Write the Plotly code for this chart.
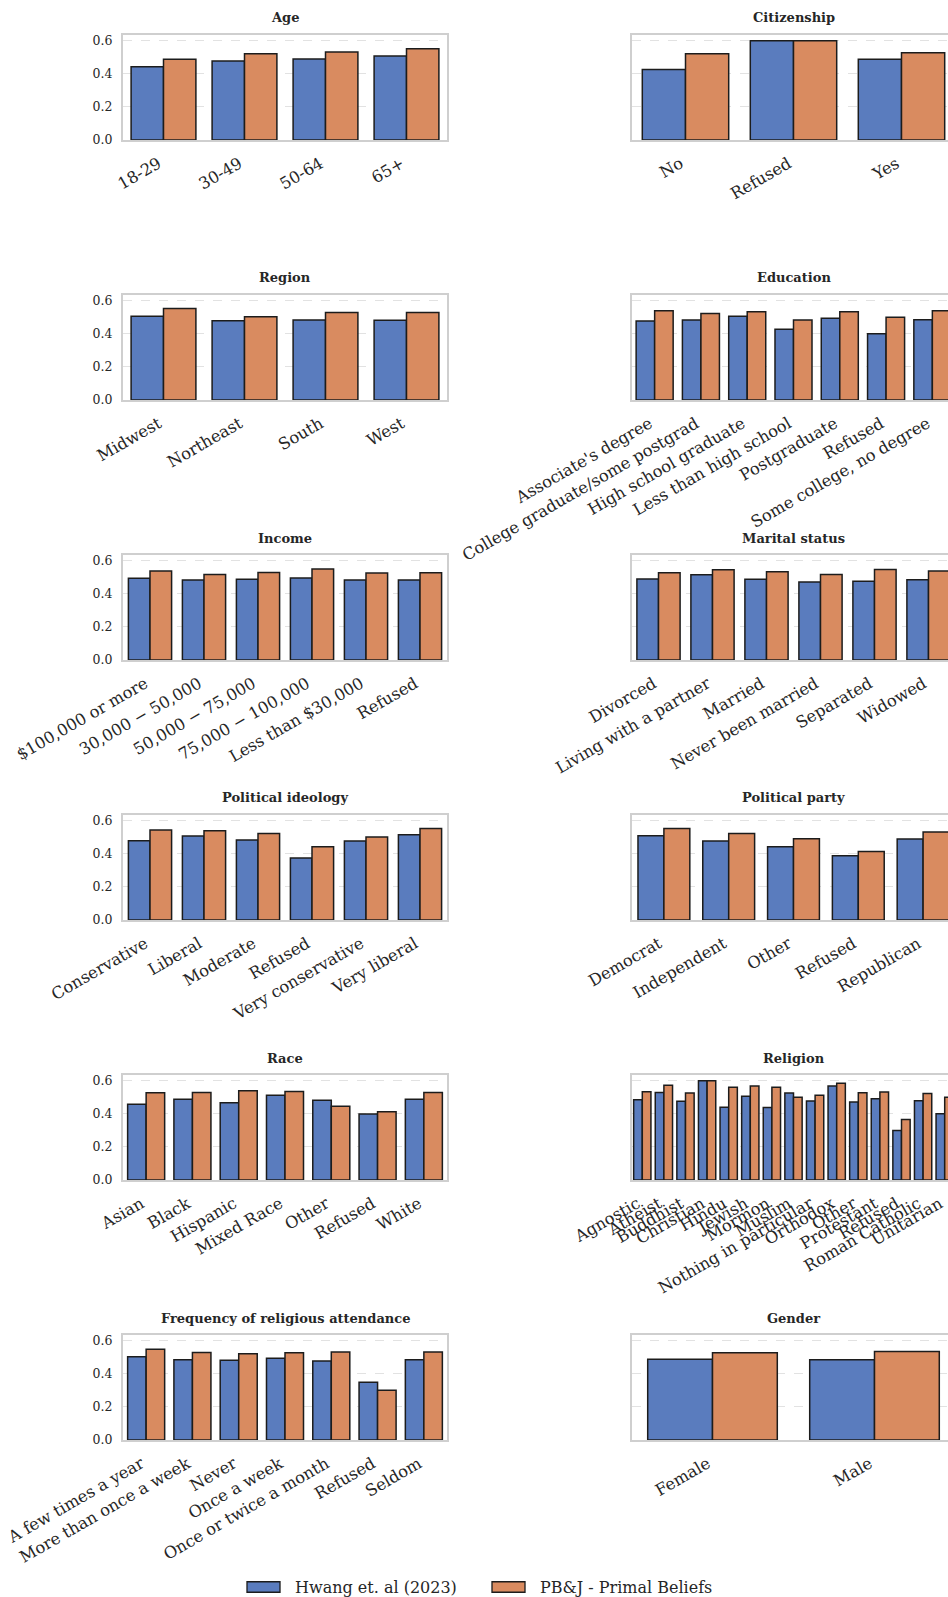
import plotly.graph_objects as go

W, H = 948, 1597

SERIES_A = "Hwang et. al (2023)"
SERIES_B = "PB&J - Primal Beliefs"

age_cats = ["18-29", "30-49", "50-64", "65+"]
age_hwang = [0.443, 0.477, 0.489, 0.507]
age_pbj = [0.487, 0.521, 0.531, 0.551]

citizenship_cats = ["No", "Refused", "Yes"]
citizenship_hwang = [0.425, 0.600, 0.487]
citizenship_pbj = [0.521, 0.600, 0.527]

region_cats = ["Midwest", "Northeast", "South", "West"]
region_hwang = [0.505, 0.479, 0.483, 0.481]
region_pbj = [0.553, 0.503, 0.529, 0.529]

education_cats = ["Associate's degree", "College graduate/some postgrad",
                  "High school graduate", "Less than high school",
                  "Postgraduate", "Refused", "Some college, no degree"]
education_hwang = [0.477, 0.483, 0.505, 0.427, 0.493, 0.400, 0.485]
education_pbj = [0.539, 0.523, 0.533, 0.483, 0.533, 0.499, 0.539]

income_cats = ["$100,000 or more", "30,000 \u2212 50,000", "50,000 \u2212 75,000",
               "75,000 \u2212 100,000", "Less than $30,000", "Refused"]
income_hwang = [0.493, 0.483, 0.487, 0.495, 0.483, 0.483]
income_pbj = [0.537, 0.517, 0.529, 0.549, 0.525, 0.527]

marital_cats = ["Divorced", "Living with a partner", "Married",
                "Never been married", "Separated", "Widowed"]
marital_hwang = [0.489, 0.515, 0.487, 0.471, 0.475, 0.485]
marital_pbj = [0.527, 0.545, 0.533, 0.517, 0.547, 0.537]

ideology_cats = ["Conservative", "Liberal", "Moderate", "Refused",
                 "Very conservative", "Very liberal"]
ideology_hwang = [0.479, 0.507, 0.483, 0.374, 0.477, 0.515]
ideology_pbj = [0.543, 0.539, 0.523, 0.443, 0.501, 0.553]

party_cats = ["Democrat", "Independent", "Other", "Refused", "Republican"]
party_hwang = [0.509, 0.477, 0.443, 0.388, 0.489]
party_pbj = [0.553, 0.523, 0.491, 0.414, 0.531]

race_cats = ["Asian", "Black", "Hispanic", "Mixed Race", "Other", "Refused", "White"]
race_hwang = [0.457, 0.487, 0.467, 0.511, 0.481, 0.398, 0.487]
race_pbj = [0.527, 0.529, 0.539, 0.535, 0.446, 0.412, 0.529]

religion_cats = ["Agnostic", "Atheist", "Buddhist", "Christian", "Hindu", "Jewish",
                 "Mormon", "Muslim", "Nothing in particular", "Orthodox", "Other",
                 "Protestant", "Refused", "Roman Catholic", "Unitarian"]
religion_hwang = [0.485, 0.529, 0.475, 0.600, 0.440, 0.505, 0.438, 0.525,
                  0.477, 0.568, 0.471, 0.491, 0.299, 0.479, 0.400]
religion_pbj = [0.533, 0.572, 0.525, 0.600, 0.560, 0.568, 0.560, 0.499,
                0.511, 0.584, 0.527, 0.531, 0.366, 0.523, 0.499]

attendance_cats = ["A few times a year", "More than once a week", "Never",
                   "Once a week", "Once or twice a month", "Refused", "Seldom"]
attendance_hwang = [0.503, 0.485, 0.481, 0.493, 0.477, 0.349, 0.485]
attendance_pbj = [0.548, 0.529, 0.521, 0.527, 0.531, 0.300, 0.531]

gender_cats = ["Female", "Male"]
gender_hwang = [0.487, 0.485]
gender_pbj = [0.527, 0.535]

panels = [
    ("Age", age_cats, age_hwang, age_pbj),
    ("Citizenship", citizenship_cats, citizenship_hwang, citizenship_pbj),
    ("Region", region_cats, region_hwang, region_pbj),
    ("Education", education_cats, education_hwang, education_pbj),
    ("Income", income_cats, income_hwang, income_pbj),
    ("Marital status", marital_cats, marital_hwang, marital_pbj),
    ("Political ideology", ideology_cats, ideology_hwang, ideology_pbj),
    ("Political party", party_cats, party_hwang, party_pbj),
    ("Race", race_cats, race_hwang, race_pbj),
    ("Religion", religion_cats, religion_hwang, religion_pbj),
    ("Frequency of religious attendance", attendance_cats, attendance_hwang, attendance_pbj),
    ("Gender", gender_cats, gender_hwang, gender_pbj),
]

BLUE = "#5a7cbe"
ORANGE = "#d98b60"
EDGE = "#1c1c1c"
FRAME = "#cfcfcf"
GRID = "#e2e2e2"
TEXT = "#262626"
FONT = "DejaVu Serif"

# pixel geometry of the panel grid
LEFT_X = (123.0, 447.0)
RIGHT_X = (631.5, 955.5)   # right column runs past the page edge and is cut off
ROW_TOP0, ROW_STEP, AX_H = 35.0, 260.0, 105.0
Y_MAX = 0.634

fig = go.Figure()
layout = {}
annotations = []
shapes = []

for i, (title, cats, hw, pb) in enumerate(panels):
    row, col = divmod(i, 2)
    k = i + 1
    xa = "x" if k == 1 else f"x{k}"
    ya = "y" if k == 1 else f"y{k}"
    n = len(cats)

    x0, x1 = LEFT_X if col == 0 else RIGHT_X
    full_w = x1 - x0
    vis_x1 = min(x1, W)
    xr_hi = -0.5 + n * (vis_x1 - x0) / full_w
    top = ROW_TOP0 + ROW_STEP * row
    bot = top + AX_H

    fig.add_trace(go.Bar(
        x=cats, y=hw, xaxis=xa, yaxis=ya, name=SERIES_A,
        showlegend=False, offsetgroup="a",
        marker=dict(color=BLUE, line=dict(color=EDGE, width=1.5)),
    ))
    fig.add_trace(go.Bar(
        x=cats, y=pb, xaxis=xa, yaxis=ya, name=SERIES_B,
        showlegend=False, offsetgroup="b",
        marker=dict(color=ORANGE, line=dict(color=EDGE, width=1.5)),
    ))

    xkey = "xaxis" if k == 1 else f"xaxis{k}"
    ykey = "yaxis" if k == 1 else f"yaxis{k}"
    layout[xkey] = dict(
        domain=[x0 / W, vis_x1 / W], anchor=ya, type="category",
        categoryorder="array", categoryarray=cats,
        tickmode="array", tickvals=cats, ticktext=cats,
        range=[-0.5, xr_hi], tickangle=-30, automargin=False,
        ticklabelstandoff=6, ticklabelshift=-5,
        tickfont=dict(family=FONT, size=16.3, color=TEXT),
        showline=True, linecolor=FRAME, linewidth=2, mirror=True,
        showgrid=False, ticks="", fixedrange=True,
    )
    layout[ykey] = dict(
        domain=[1 - bot / H, 1 - top / H], anchor=xa, automargin=False,
        range=[0, Y_MAX], tickvals=[0, 0.2, 0.4, 0.6],
        ticktext=["0.0", "0.2", "0.4", "0.6"],
        showticklabels=(col == 0), ticklabelstandoff=6,
        tickfont=dict(family=FONT, size=12.5, color=TEXT),
        showline=True, linecolor=FRAME, linewidth=2,
        mirror=(col == 0),
        showgrid=True, gridcolor=GRID, gridwidth=1, griddash="dash",
        zeroline=False, ticks="", fixedrange=True,
    )
    annotations.append(dict(
        text=f"<b>{title}</b>", xref="paper", yref="paper",
        x=((x0 + x1) / 2) / W, y=1 - (top - 17) / H,
        xanchor="center", yanchor="middle", showarrow=False,
        font=dict(family=FONT, size=13, color=TEXT),
    ))

# figure legend at the bottom: wide colour patches followed by the series names
legend_items = [(SERIES_A, BLUE, 247.0), (SERIES_B, ORANGE, 492.0)]
LEG_Y, PATCH_W, PATCH_H = 1587.0, 33.0, 10.5
for label, colour, px in legend_items:
    shapes.append(dict(
        type="rect", xref="paper", yref="paper",
        x0=px / W, x1=(px + PATCH_W) / W,
        y0=1 - (LEG_Y + PATCH_H / 2) / H, y1=1 - (LEG_Y - PATCH_H / 2) / H,
        fillcolor=colour, line=dict(color=EDGE, width=1.3),
    ))
    annotations.append(dict(
        text=label, xref="paper", yref="paper",
        x=(px + PATCH_W + 13) / W, y=1 - LEG_Y / H,
        xanchor="left", yanchor="middle", showarrow=False,
        font=dict(family=FONT, size=16, color=TEXT),
    ))

fig.update_layout(
    width=W, height=H,
    margin=dict(l=0, r=0, t=0, b=0, autoexpand=False),
    paper_bgcolor="white", plot_bgcolor="white",
    barmode="group", bargap=0.2, bargroupgap=0,
    font=dict(family=FONT, color=TEXT),
    annotations=annotations, shapes=shapes,
    showlegend=False,
    **layout,
)

fig.write_html("out.html")
